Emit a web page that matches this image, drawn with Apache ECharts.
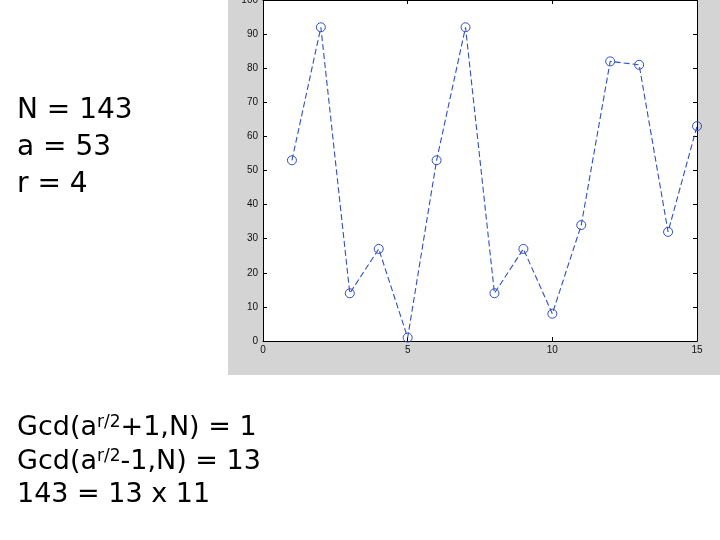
<!DOCTYPE html>
<html>
<head>
<meta charset="utf-8">
<script src="https://cdn.jsdelivr.net/npm/echarts@6/dist/echarts.min.js"></script>
<style>
html,body{margin:0;padding:0;background:#fff;}
#chart{width:720px;height:540px;}
</style>
</head>
<body>
<div id="chart"></div>
<script>
// Data
const xValues = [1,2,3,4,5,6,7,8,9,10,11,12,13,14,15];
const yValues = [53,92,14,27,1,53,92,14,27,8,34,82,81,32,63];
const topLines = ['N = 143', 'a = 53', 'r = 4'];
const bottomLines = [
  ['Gcd(a', 'r/2', '+1,N) = 1'],
  ['Gcd(a', 'r/2', '-1,N) = 13'],
  ['143 = 13 x 11']
];

const chart = echarts.init(document.getElementById('chart'), null, {renderer:'canvas'});
const lineColor = '#2f4fc4';
const textFont = '"DejaVu Sans", sans-serif';

const graphics = [
  {type:'rect', z:-10, silent:true, shape:{x:228, y:0, width:492, height:375}, style:{fill:'#d4d4d4'}}
];
const topBaselines = [123, 160, 197];
topLines.forEach((t,i)=>{
  graphics.push({type:'text', left:17, top:topBaselines[i]-26, style:{text:t, font:'28px ' + textFont, fill:'#000'}});
});
const botBaselines = [437, 471, 506];
bottomLines.forEach((parts,i)=>{
  if (parts.length === 3) {
    const txt = '{m|' + parts[0] + '}{s|' + parts[1] + '}{m|' + parts[2] + '}';
    graphics.push({type:'text', left:17, top:botBaselines[i]-30, style:{
      text: txt,
      rich: {
        m: {fontSize:27, fontFamily:textFont, fill:'#000', lineHeight:34, verticalAlign:'bottom'},
        s: {fontSize:17, fontFamily:textFont, fill:'#000', lineHeight:20, verticalAlign:'top', padding:[7,0,0,0]}
      }
    }});
  } else {
    graphics.push({type:'text', left:17, top:botBaselines[i]-25, style:{
      text: parts[0], font:'27px ' + textFont, fill:'#000'
    }});
  }
});

const axisLabelStyle = {color:'#111', fontSize:10, fontFamily:'"Liberation Sans", Arial, sans-serif'};

const option = {
  animation:false,
  backgroundColor:'#fff',
  grid:{left:263, right:23, top:0, bottom:199, show:true, backgroundColor:'#fff', borderWidth:0,
        outerBoundsMode:'none', containLabel:false},
  xAxis:[
    {type:'value', min:0, max:15, interval:5, position:'bottom',
     axisLine:{show:true, onZero:false, lineStyle:{color:'#000', width:1}},
     axisTick:{show:true, inside:true, length:4, lineStyle:{color:'#000'}},
     axisLabel:Object.assign({margin:4}, axisLabelStyle),
     splitLine:{show:false}},
    {type:'value', min:0, max:15, interval:5, position:'top',
     axisLine:{show:true, onZero:false, lineStyle:{color:'#000', width:1}},
     axisTick:{show:true, inside:true, length:4, lineStyle:{color:'#000'}},
     axisLabel:{show:false}, splitLine:{show:false}}
  ],
  yAxis:[
    {type:'value', min:0, max:100, interval:10, position:'left',
     axisLine:{show:true, onZero:false, lineStyle:{color:'#000', width:1}},
     axisTick:{show:true, inside:true, length:4, lineStyle:{color:'#000'}},
     axisLabel:Object.assign({margin:5}, axisLabelStyle),
     splitLine:{show:false}},
    {type:'value', min:0, max:100, interval:10, position:'right',
     axisLine:{show:true, onZero:false, lineStyle:{color:'#000', width:1}},
     axisTick:{show:true, inside:true, length:4, lineStyle:{color:'#000'}},
     axisLabel:{show:false}, splitLine:{show:false}}
  ],
  series:[{
    type:'line',
    data: xValues.map((x,i)=>[x, yValues[i]]),
    symbol:'circle',
    symbolSize:9,
    showAllSymbol:true,
    clip:false,
    lineStyle:{color:lineColor, width:1.1, type:[6,3]},
    itemStyle:{color:'rgba(0,0,0,0)', borderColor:lineColor, borderWidth:1},
    emphasis:{disabled:true}
  }],
  graphic: graphics
};
chart.setOption(option);
</script>
</body>
</html>
